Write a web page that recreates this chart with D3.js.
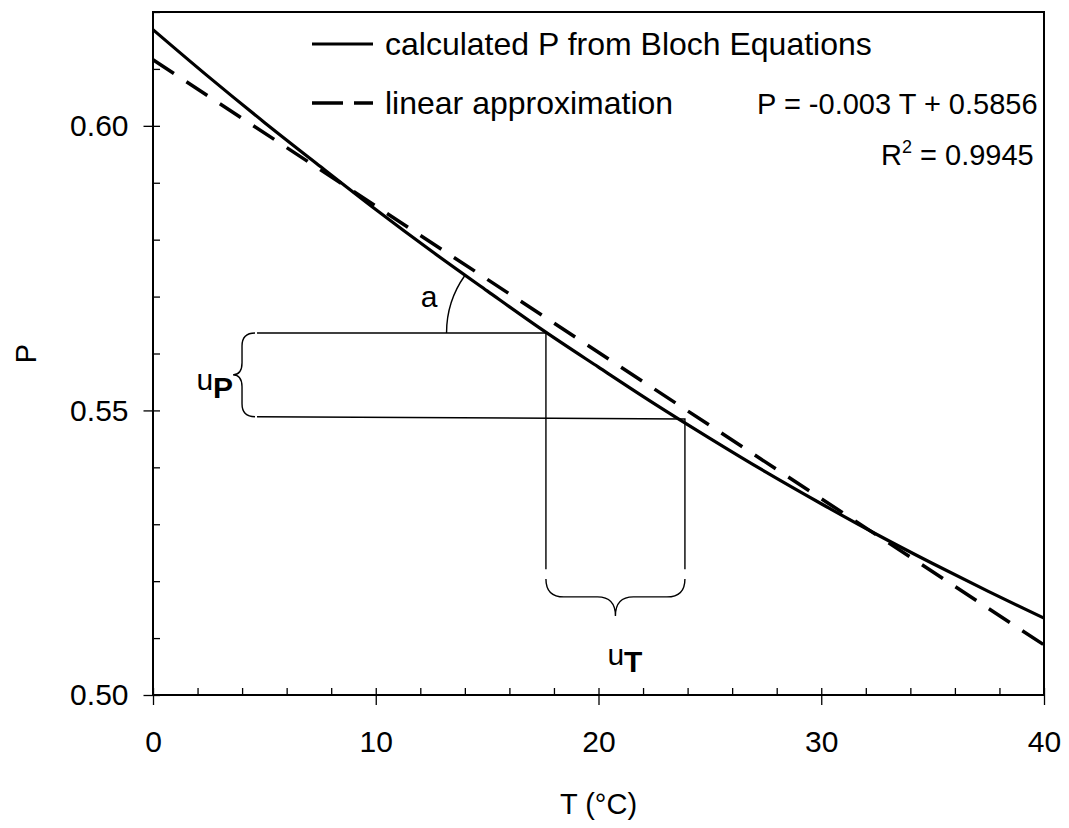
<!DOCTYPE html>
<html>
<head>
<meta charset="utf-8">
<script src="https://cdn.jsdelivr.net/npm/d3@7"></script>
<style>
    body { margin: 0; background: #fff; }
    text { font-family: "Liberation Sans", Arial, sans-serif; fill: #000; }
</style>
</head>
<body>
<svg id="chart"></svg>
<script>
// Data
const tempC = [0, 2.5, 5, 7.5, 10, 12.5, 15, 17.5, 20, 22.5, 25, 27.5, 30, 32.5, 35, 37.5, 40];
const pBloch = [0.6169, 0.6086, 0.6006, 0.5929, 0.5853, 0.5780, 0.5710, 0.5641, 0.5576, 0.5512,
                0.5451, 0.5392, 0.5336, 0.5282, 0.5231, 0.5182, 0.5135];
const linTemp = [0, 40];
const pLinear = [0.6116, 0.5088];
const xTicks = [0, 10, 20, 30, 40];
const yTicks = [0.50, 0.55, 0.60];
const legendLabels = ["calculated P from Bloch Equations", "linear approximation"];

// Annotation (step along the curve)
const stepT = [17.64, 23.88];      // the two points on the curve
const stepP = [0.5636, 0.5485];
const stepLeftT = 4.67;            // where the horizontal lines start
const stepLeftP = [0.5636, 0.5489];
const stepBottomP = 0.5221;        // where the vertical lines stop
const braceT = 4.58;               // ends of the u_P brace
const braceBottomP = 0.5204;       // top of the u_T brace
const arcEnd = [14.0, 0.5737];     // angle arc end on the curve
const labelA = [12.39, 0.5682];
const labelUP = [1.95, 0.5536];
const labelUT = [20.4, 0.5053];

// Size
const width = 1069;
const height = 828;
const fs = 30;

const svg = d3.select("#chart")
    .attr("width", width)
    .attr("height", height);

const x = d3.scaleLinear().domain([0, 40]).range([153, 1044]);
const y = d3.scaleLinear().domain([0.50, 0.62]).range([695, 12]);

// Axes: minor ticks inside, major ticks across
const xMinor = svg.append("g")
    .attr("transform", `translate(0,${y(0.50)})`)
    .call(d3.axisBottom(x).tickValues(d3.range(0, 41, 2)).tickSize(-7).tickFormat(""));
const xMajor = svg.append("g")
    .attr("transform", `translate(0,${y(0.50)})`)
    .call(d3.axisBottom(x).tickValues(xTicks).tickSize(10).tickPadding(25.5).tickFormat(d3.format("d")));
const yMinor = svg.append("g")
    .attr("transform", `translate(${x(0)},0)`)
    .call(d3.axisLeft(y).tickValues(d3.range(50, 63).map(d => d / 100)).tickSize(-7).tickFormat(""));
const yMajor = svg.append("g")
    .attr("transform", `translate(${x(0)},0)`)
    .call(d3.axisLeft(y).tickValues(yTicks).tickSize(9.5).tickPadding(15).tickFormat(d3.format(".2f")));

[xMinor, xMajor, yMinor, yMajor].forEach(g => {
    g.select(".domain").remove();
    g.selectAll("line").attr("stroke", "#000").attr("stroke-width", 1.3);
    g.selectAll("text")
        .attr("font-family", "Liberation Sans, Arial, sans-serif")
        .attr("font-size", fs)
        .attr("fill", "#000");
});

// Frame
svg.append("rect")
    .attr("x", x(0))
    .attr("y", y(0.62))
    .attr("width", x(40) - x(0))
    .attr("height", y(0.50) - y(0.62))
    .attr("fill", "none")
    .attr("stroke", "#000")
    .attr("stroke-width", 2);

// Axis labels
svg.append("text")
    .attr("x", (x(0) + x(40)) / 2)
    .attr("y", 814)
    .attr("text-anchor", "middle")
    .attr("font-size", 29)
    .text("T (°C)");

svg.append("text")
    .attr("transform", `translate(36,${(y(0.50) + y(0.62)) / 2}) rotate(-90)`)
    .attr("text-anchor", "middle")
    .attr("font-size", 29)
    .text("P");

// Curves
const line = d3.line().x(d => x(d[0])).y(d => y(d[1]));

svg.append("path")
    .datum(tempC.map((t, i) => [t, pBloch[i]]))
    .attr("d", d3.line().curve(d3.curveMonotoneX).x(d => x(d[0])).y(d => y(d[1])))
    .attr("fill", "none")
    .attr("stroke", "#000")
    .attr("stroke-width", 3.2);

svg.append("path")
    .datum(linTemp.map((t, i) => [t, pLinear[i]]))
    .attr("d", line)
    .attr("fill", "none")
    .attr("stroke", "#000")
    .attr("stroke-width", 3.5)
    .attr("stroke-dasharray", "25,15");

// Step lines
const thin = g => g.attr("fill", "none").attr("stroke", "#000").attr("stroke-width", 1.4);

svg.append("path").call(thin)
    .attr("d", line([[stepLeftT, stepLeftP[0]], [stepT[0], stepP[0]], [stepT[0], stepBottomP]]));
svg.append("path").call(thin)
    .attr("d", line([[stepLeftT, stepLeftP[1]], [stepT[1], stepP[1]], [stepT[1], stepBottomP]]));

// Angle arc
const cx = x(stepT[0]), cy = y(stepP[0]);
const ex = x(arcEnd[0]), ey = y(arcEnd[1]);
const r = Math.hypot(cx - ex, cy - ey);
svg.append("path").call(thin)
    .attr("d", `M${cx - r},${cy} A${r},${r} 0 0 1 ${ex},${ey}`);

// Brace for u_P (vertical)
const bx = x(braceT), by1 = y(stepLeftP[0]), by2 = y(stepLeftP[1]);
const bm = (by1 + by2) / 2;
svg.append("path").call(thin)
    .attr("d", `M${bx},${by1} Q${bx - 13},${by1} ${bx - 13},${by1 + 13} L${bx - 13},${bm - 12}` +
        ` Q${bx - 13},${bm} ${bx - 22},${bm} Q${bx - 13},${bm} ${bx - 13},${bm + 12}` +
        ` L${bx - 13},${by2 - 13} Q${bx - 13},${by2} ${bx},${by2}`);

// Brace for u_T (horizontal)
const tx1 = x(stepT[0]), tx2 = x(stepT[1]), ty = y(braceBottomP);
const tm = (tx1 + tx2) / 2;
svg.append("path").call(thin)
    .attr("d", `M${tx1},${ty} Q${tx1},${ty + 18} ${tx1 + 18},${ty + 18} L${tm - 18},${ty + 18}` +
        ` Q${tm},${ty + 18} ${tm},${ty + 37} Q${tm},${ty + 18} ${tm + 18},${ty + 18}` +
        ` L${tx2 - 18},${ty + 18} Q${tx2},${ty + 18} ${tx2},${ty}`);

// Annotation labels
svg.append("text")
    .attr("x", x(labelA[0]))
    .attr("y", y(labelA[1]))
    .attr("text-anchor", "middle")
    .attr("font-size", fs)
    .text("a");

const up = svg.append("text")
    .attr("x", x(labelUP[0]))
    .attr("y", y(labelUP[1]))
    .attr("font-size", fs)
    .text("u");
up.append("tspan").attr("dy", 8).attr("font-weight", "bold").text("P");

const ut = svg.append("text")
    .attr("x", x(labelUT[0]))
    .attr("y", y(labelUT[1]))
    .attr("font-size", fs)
    .text("u");
ut.append("tspan").attr("dy", 7).attr("font-weight", "bold").text("T");

// Legend
const legend = svg.append("g");

legend.append("line")
    .attr("x1", 312).attr("x2", 373).attr("y1", 44).attr("y2", 44)
    .attr("stroke", "#000").attr("stroke-width", 3.2);
legend.append("text").attr("x", 385).attr("y", 55).attr("font-size", 32).text(legendLabels[0]);

legend.append("line")
    .attr("x1", 312).attr("x2", 373).attr("y1", 103).attr("y2", 103)
    .attr("stroke", "#000").attr("stroke-width", 3.5).attr("stroke-dasharray", "31,11");
legend.append("text").attr("x", 385).attr("y", 114).attr("font-size", 32).text(legendLabels[1]);

legend.append("text").attr("x", 757).attr("y", 114).attr("font-size", 29).text("P = -0.003 T + 0.5856");

const r2 = legend.append("text").attr("x", 881).attr("y", 165).attr("font-size", 29).text("R");
r2.append("tspan").attr("dy", -12).attr("font-size", 18).text("2");
r2.append("tspan").attr("dy", 12).text(" = 0.9945");
</script>
</body>
</html>
